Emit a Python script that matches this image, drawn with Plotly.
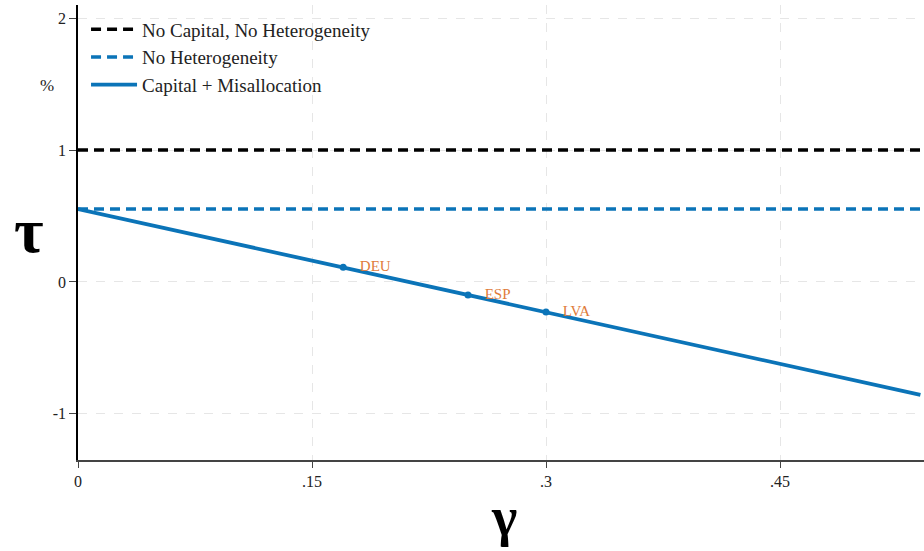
import plotly.graph_objects as go

# Data
gamma_line = [0.0, 0.54]
tau_no_cap_no_het = [1.0, 1.0]
tau_no_het = [0.553, 0.553]
tau_cap_misalloc = [0.553, -0.856]

countries = ["DEU", "ESP", "LVA"]
country_gamma = [0.17, 0.25, 0.30]
country_tau = [0.111, -0.099, -0.228]

x_ticks = [0, 0.15, 0.30, 0.45]
x_tick_labels = ["0", ".15", ".3", ".45"]
y_ticks = [-1, 0, 1, 2]
y_tick_labels = ["-1", "0", "1", "2"]

BLUE = "#0b74b8"
ORANGE = "#e07b39"
FONT = "Liberation Serif"

fig = go.Figure()
fig.add_trace(go.Scatter(x=gamma_line, y=tau_no_cap_no_het, mode="lines",
                         name="No Capital, No Heterogeneity",
                         line=dict(color="black", width=3.5, dash="10px,6px")))
fig.add_trace(go.Scatter(x=gamma_line, y=tau_no_het, mode="lines",
                         name="No Heterogeneity",
                         line=dict(color=BLUE, width=3.5, dash="10px,6px")))
fig.add_trace(go.Scatter(x=gamma_line, y=tau_cap_misalloc, mode="lines",
                         name="Capital + Misallocation",
                         line=dict(color=BLUE, width=3.8)))
fig.add_trace(go.Scatter(x=country_gamma, y=country_tau, mode="markers+text",
                         text=countries, texttemplate="   %{text}",
                         textposition="middle right",
                         textfont=dict(color=ORANGE, size=15, family=FONT),
                         marker=dict(color=BLUE, size=7), showlegend=False))

fig.update_layout(
    width=924, height=551,
    margin=dict(l=78, r=0, t=5, b=91),
    plot_bgcolor="white", paper_bgcolor="white",
    font=dict(family=FONT, size=15, color="#222"),
    legend=dict(x=0.0095, y=0.988, xanchor="left", yanchor="top",
                bgcolor="rgba(255,255,255,0)", font=dict(size=19, family=FONT, color="#222"),
                itemwidth=46, tracegroupgap=2),
    showlegend=True,
)
fig.update_xaxes(range=[0, 0.5423], tickvals=x_ticks, ticktext=x_tick_labels,
                 showgrid=True, gridcolor="#e6e6e6", griddash="dash", gridwidth=1.3,
                 zeroline=False, showline=True, linecolor="#444", linewidth=1.5,
                 ticks="outside", ticklen=6, tickcolor="#444",
                 tickfont=dict(size=16, family=FONT), automargin=False)
fig.update_yaxes(range=[-1.35, 2.1], tickvals=y_ticks, ticktext=y_tick_labels,
                 showgrid=True, gridcolor="#e6e6e6", griddash="dash", gridwidth=1.3,
                 zeroline=False, showline=True, linecolor="black", linewidth=1.5,
                 ticks="outside", ticklen=7, tickcolor="#444",
                 tickfont=dict(size=16, family=FONT), automargin=False)

fig.add_annotation(text="<b>τ</b>", xref="paper", yref="paper", x=-0.058, y=0.505,
                   xanchor="center", yanchor="middle", showarrow=False,
                   font=dict(size=64, family=FONT, color="black"))
fig.add_annotation(text="<b>γ</b>", xref="paper", yref="paper", x=0.503, y=-0.125,
                   xanchor="center", yanchor="middle", showarrow=False,
                   font=dict(size=54, family=FONT, color="black"))
fig.add_annotation(text="%", xref="paper", yref="paper", x=-0.037, y=0.824,
                   xanchor="center", yanchor="middle", showarrow=False,
                   font=dict(size=17, family=FONT, color="#222"))

fig.write_html("out.html", config={"displayModeBar": False},
               post_script="document.body.style.margin='0';")
